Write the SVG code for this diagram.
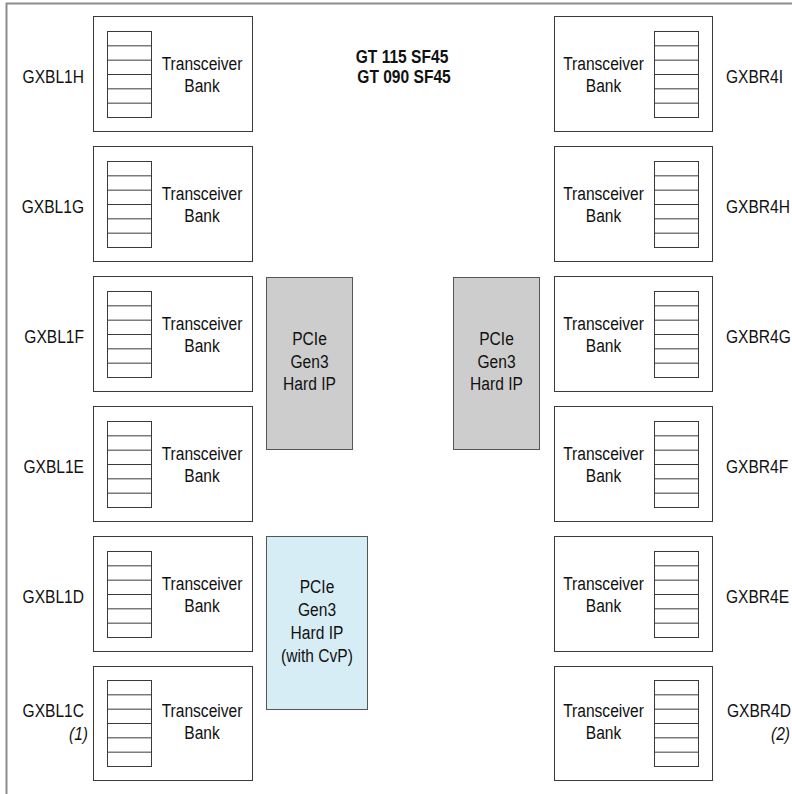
<svg xmlns="http://www.w3.org/2000/svg" xmlns:xlink="http://www.w3.org/1999/xlink" width="792" height="794" viewBox="0 0 792 794">
<style>
.frame{fill:none;stroke:#8c8c8c;stroke-width:2}
.bank{fill:#ffffff;stroke:#3a3a3a;stroke-width:1}
.lad{fill:#ffffff;stroke:#3a3a3a;stroke-width:1}
.pcie{fill:#cdcdcd;stroke:#555555;stroke-width:1}
.cvp{fill:#d7edf5;stroke:#555555;stroke-width:1}
.t{font-family:"Liberation Sans",Arial,sans-serif;font-size:19px;fill:#111111}
.c{text-anchor:middle}
.e{text-anchor:end}
.b{font-weight:bold}
.i{font-style:italic}
</style>
<defs>
<g id="ladder" class="lad"><rect x="0" y="0" width="44" height="86"/><path d="M0 14.33H44M0 28.67H44M0 43H44M0 57.33H44M0 71.67H44"/></g>
</defs>
<rect class="frame" x="6.5" y="3.5" width="900" height="900"/>
<g id="title">
<text class="t c b" transform="translate(402,63) scale(0.82,1)">GT 115 SF45</text>
<text class="t c b" transform="translate(404,83) scale(0.82,1)">GT 090 SF45</text>
</g>
<g id="connectors"></g>
<!-- left banks -->
<g id="GXBL1H">
<rect class="bank" x="93.5" y="16.5" width="159" height="115"/>
<use xlink:href="#ladder" x="107.5" y="31.5"/>
<text class="t c" transform="translate(202,70) scale(0.82,1)">Transceiver</text>
<text class="t c" transform="translate(202,92) scale(0.82,1)">Bank</text>
<text class="t e" transform="translate(84,83) scale(0.82,1)">GXBL1H</text>
</g>
<g id="GXBL1G">
<rect class="bank" x="93.5" y="146.5" width="159" height="115"/>
<use xlink:href="#ladder" x="107.5" y="161.5"/>
<text class="t c" transform="translate(202,200) scale(0.82,1)">Transceiver</text>
<text class="t c" transform="translate(202,222) scale(0.82,1)">Bank</text>
<text class="t e" transform="translate(84,213) scale(0.82,1)">GXBL1G</text>
</g>
<g id="GXBL1F">
<rect class="bank" x="93.5" y="276.5" width="159" height="115"/>
<use xlink:href="#ladder" x="107.5" y="291.5"/>
<text class="t c" transform="translate(202,330) scale(0.82,1)">Transceiver</text>
<text class="t c" transform="translate(202,352) scale(0.82,1)">Bank</text>
<text class="t e" transform="translate(84,343) scale(0.82,1)">GXBL1F</text>
</g>
<g id="GXBL1E">
<rect class="bank" x="93.5" y="406.5" width="159" height="115"/>
<use xlink:href="#ladder" x="107.5" y="421.5"/>
<text class="t c" transform="translate(202,460) scale(0.82,1)">Transceiver</text>
<text class="t c" transform="translate(202,482) scale(0.82,1)">Bank</text>
<text class="t e" transform="translate(84,473) scale(0.82,1)">GXBL1E</text>
</g>
<g id="GXBL1D">
<rect class="bank" x="93.5" y="536.5" width="159" height="115"/>
<use xlink:href="#ladder" x="107.5" y="551.5"/>
<text class="t c" transform="translate(202,590) scale(0.82,1)">Transceiver</text>
<text class="t c" transform="translate(202,612) scale(0.82,1)">Bank</text>
<text class="t e" transform="translate(84,603) scale(0.82,1)">GXBL1D</text>
</g>
<g id="GXBL1C">
<rect class="bank" x="93.5" y="666.5" width="159" height="114"/>
<use xlink:href="#ladder" x="107.5" y="680.5"/>
<text class="t c" transform="translate(202,717) scale(0.82,1)">Transceiver</text>
<text class="t c" transform="translate(202,739) scale(0.82,1)">Bank</text>
<text class="t e" transform="translate(84,717) scale(0.82,1)">GXBL1C</text>
<text class="t e i" transform="translate(88,740) scale(0.82,1)">(1)</text>
</g>
<!-- right banks -->
<g id="GXBR4I">
<rect class="bank" x="554.5" y="16.5" width="158" height="115"/>
<use xlink:href="#ladder" x="654.5" y="31.5"/>
<text class="t c" transform="translate(603.5,70) scale(0.82,1)">Transceiver</text>
<text class="t c" transform="translate(603.5,92) scale(0.82,1)">Bank</text>
<text class="t" transform="translate(726,83) scale(0.82,1)">GXBR4I</text>
</g>
<g id="GXBR4H">
<rect class="bank" x="554.5" y="146.5" width="158" height="115"/>
<use xlink:href="#ladder" x="654.5" y="161.5"/>
<text class="t c" transform="translate(603.5,200) scale(0.82,1)">Transceiver</text>
<text class="t c" transform="translate(603.5,222) scale(0.82,1)">Bank</text>
<text class="t" transform="translate(726,213) scale(0.82,1)">GXBR4H</text>
</g>
<g id="GXBR4G">
<rect class="bank" x="554.5" y="276.5" width="158" height="115"/>
<use xlink:href="#ladder" x="654.5" y="291.5"/>
<text class="t c" transform="translate(603.5,330) scale(0.82,1)">Transceiver</text>
<text class="t c" transform="translate(603.5,352) scale(0.82,1)">Bank</text>
<text class="t" transform="translate(726,343) scale(0.82,1)">GXBR4G</text>
</g>
<g id="GXBR4F">
<rect class="bank" x="554.5" y="406.5" width="158" height="115"/>
<use xlink:href="#ladder" x="654.5" y="421.5"/>
<text class="t c" transform="translate(603.5,460) scale(0.82,1)">Transceiver</text>
<text class="t c" transform="translate(603.5,482) scale(0.82,1)">Bank</text>
<text class="t" transform="translate(726,473) scale(0.82,1)">GXBR4F</text>
</g>
<g id="GXBR4E">
<rect class="bank" x="554.5" y="536.5" width="158" height="115"/>
<use xlink:href="#ladder" x="654.5" y="551.5"/>
<text class="t c" transform="translate(603.5,590) scale(0.82,1)">Transceiver</text>
<text class="t c" transform="translate(603.5,612) scale(0.82,1)">Bank</text>
<text class="t" transform="translate(726,603) scale(0.82,1)">GXBR4E</text>
</g>
<g id="GXBR4D">
<rect class="bank" x="554.5" y="666.5" width="158" height="114"/>
<use xlink:href="#ladder" x="654.5" y="680.5"/>
<text class="t c" transform="translate(603.5,717) scale(0.82,1)">Transceiver</text>
<text class="t c" transform="translate(603.5,739) scale(0.82,1)">Bank</text>
<text class="t" transform="translate(727,717) scale(0.82,1)">GXBR4D</text>
<text class="t i" transform="translate(771,740) scale(0.82,1)">(2)</text>
</g>
<!-- PCIe blocks -->
<g id="pcie-left">
<rect class="pcie" x="266.5" y="277.5" width="86" height="172"/>
<text class="t c" transform="translate(309.5,345) scale(0.82,1)">PCIe</text>
<text class="t c" transform="translate(309.5,367.5) scale(0.82,1)">Gen3</text>
<text class="t c" transform="translate(309.5,390) scale(0.82,1)">Hard IP</text>
</g>
<g id="pcie-right">
<rect class="pcie" x="453.5" y="277.5" width="86" height="172"/>
<text class="t c" transform="translate(496.5,345) scale(0.82,1)">PCIe</text>
<text class="t c" transform="translate(496.5,367.5) scale(0.82,1)">Gen3</text>
<text class="t c" transform="translate(496.5,390) scale(0.82,1)">Hard IP</text>
</g>
<g id="pcie-cvp">
<rect class="cvp" x="266.5" y="536.5" width="101" height="173"/>
<text class="t c" transform="translate(317,593) scale(0.82,1)">PCIe</text>
<text class="t c" transform="translate(317,616) scale(0.82,1)">Gen3</text>
<text class="t c" transform="translate(317,639) scale(0.82,1)">Hard IP</text>
<text class="t c" transform="translate(317,662) scale(0.82,1)">(with CvP)</text>
</g>
</svg>
